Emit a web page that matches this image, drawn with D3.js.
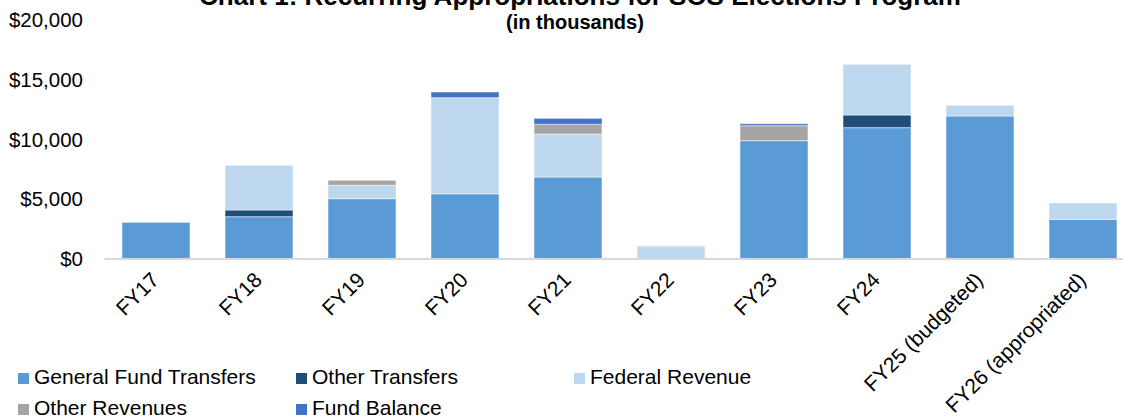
<!DOCTYPE html>
<html lang="en">
<head>
    <meta charset="UTF-8">
    <title>Chart 1: Recurring Appropriations for SOS Elections Program</title>
    <script src="https://d3js.org/d3.v7.min.js"></script>
    <style>
        body {
            margin: 0;
            background: #fff;
        }
        svg {
            font-family: "Liberation Sans", Arial, sans-serif;
        }
        .tick-label {
            font-size: 20.5px;
            fill: #000;
        }
        .cat-label {
            font-size: 21px;
            fill: #000;
        }
        .legend text {
            font-size: 21px;
            fill: #000;
        }
    </style>
</head>
<body>
    <div id="chart"></div>

    <script>
        // values in thousands of dollars
        const categories = ["FY17", "FY18", "FY19", "FY20", "FY21", "FY22", "FY23", "FY24", "FY25 (budgeted)", "FY26 (appropriated)"];
        const generalFund    = [3070, 3540, 5050, 5460, 6860,    0, 9900, 10990, 11970, 3320];
        const otherTransfers = [   0,  560,    0,    0,    0,    0,    0,  1060,     0,    0];
        const federalRevenue = [   0, 3740, 1120, 8040, 3600, 1030,    0,  4240,   890, 1370];
        const otherRevenues  = [   0,    0,  420,    0,  810,   70, 1250,     0,     0,    0];
        const fundBalance    = [   0,    0,    0,  475,  500,    0,  170,     0,     0,    0];
        const yTicks = [0, 5000, 10000, 15000, 20000];

        const seriesNames = ["General Fund Transfers", "Other Transfers", "Federal Revenue", "Other Revenues", "Fund Balance"];
        const seriesKeys = ["gf", "ot", "fed", "or", "fb"];
        const colors = ["#5b9bd5", "#1f4e79", "#bdd7ee", "#a5a5a5", "#4472c4"];

        const width = 1123;
        const height = 420;

        const rows = categories.map((c, i) => ({
            cat: c,
            gf: generalFund[i],
            ot: otherTransfers[i],
            fed: federalRevenue[i],
            or: otherRevenues[i],
            fb: fundBalance[i]
        }));

        const stacked = d3.stack().keys(seriesKeys)(rows);

        const x = d3.scaleBand()
            .domain(categories)
            .range([104.5, 1134.5])
            .paddingInner(0.34)
            .paddingOuter(0.17);

        const y = d3.scaleLinear()
            .domain([0, 20000])
            .range([259, 20]);

        const color = d3.scaleOrdinal().domain(seriesKeys).range(colors);

        const svg = d3.select("#chart").append("svg")
            .attr("width", width)
            .attr("height", height);

        // title (partly above the top edge, as in the source)
        svg.append("text")
            .attr("x", 580)
            .attr("y", 5)
            .attr("text-anchor", "middle")
            .style("font-size", "26px")
            .style("font-weight", "bold")
            .text("Chart 1: Recurring Appropriations for SOS Elections Program");

        svg.append("text")
            .attr("x", 575)
            .attr("y", 29)
            .attr("text-anchor", "middle")
            .style("font-size", "20px")
            .style("font-weight", "bold")
            .text("(in thousands)");

        // y tick labels, no gridlines
        svg.append("g")
            .selectAll("text")
            .data(yTicks)
            .join("text")
            .attr("class", "tick-label")
            .attr("x", 83)
            .attr("y", d => y(d))
            .attr("dy", "0.35em")
            .attr("text-anchor", "end")
            .text(d => "$" + d3.format(",")(d));

        // bars
        svg.append("g")
            .selectAll("g")
            .data(stacked)
            .join("g")
            .attr("fill", d => color(d.key))
            .selectAll("rect")
            .data(d => d)
            .join("rect")
            .attr("x", d => x(d.data.cat))
            .attr("width", x.bandwidth())
            .attr("y", d => y(d[1]))
            .attr("height", d => y(d[0]) - y(d[1]))
            .attr("stroke", "#fff")
            .attr("stroke-opacity", 0.5)
            .attr("stroke-width", 1);

        // baseline
        svg.append("line")
            .attr("x1", 104.5)
            .attr("x2", width)
            .attr("y1", y(0))
            .attr("y2", y(0))
            .attr("stroke", "#d9d9d9")
            .attr("stroke-width", 2);

        // rotated category labels
        svg.append("g")
            .selectAll("text")
            .data(categories)
            .join("text")
            .attr("class", "cat-label")
            .attr("transform", d => `translate(${x(d) + x.bandwidth() / 2 - 1},${y(0) + 17}) rotate(-45)`)
            .attr("text-anchor", "end")
            .attr("dy", "0.35em")
            .text(d => d);

        // legend
        const legend = svg.append("g").attr("class", "legend");
        const legendPos = [[18, 373], [296, 373], [574, 373], [18, 404], [296, 404]];

        const item = legend.selectAll("g")
            .data(seriesNames)
            .join("g")
            .attr("transform", (d, i) => `translate(${legendPos[i][0]},${legendPos[i][1]})`);

        item.append("rect")
            .attr("width", 11)
            .attr("height", 11)
            .attr("fill", (d, i) => colors[i]);

        item.append("text")
            .attr("x", 16)
            .attr("y", 10.5)
            .text(d => d);
    </script>
</body>
</html>
